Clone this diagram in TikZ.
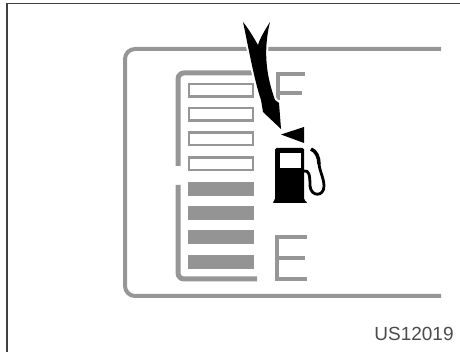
\documentclass[tikz,border=0pt]{standalone}
\usepackage{fontspec}
\setsansfont{Liberation Sans}
\definecolor{lineGray}{RGB}{150,150,150}
\definecolor{barGray}{RGB}{148,148,148}
\definecolor{codeGray}{RGB}{75,75,75}
\tikzset{
  PANEL/.style={draw=lineGray, line width=4pt, rounded corners=10pt},
  LETTER/.style={draw=lineGray, line width=4pt},
  B/.style={inner sep=0pt, minimum width=66pt, minimum height=14pt},
  EMPTY/.style={B, draw=lineGray, line width=2.5pt, fill=white, minimum width=64pt, minimum height=12.5pt},
  FULL/.style={B, fill=barGray},
}
\newcommand{\pointershape}{(243,22) .. controls (247,40) and (254,80) .. (261,100) -- (263,112)
  -- (281,129) -- (279,103) -- (275,100)
  .. controls (268,80) and (262,55) .. (270,22)
  .. controls (265,30) and (260,38) .. (258,45)
  .. controls (254,38) and (248,28) .. (243,22) -- cycle}
\begin{document}
\begin{tikzpicture}[x=1pt, y=1pt, yscale=-1]

\useasboundingbox (0,0) rectangle (460,352);

%% Frame
\draw[black!75, line width=1.2pt] (7,352) -- (7,3.5) -- (460,3.5);

%% Panel and bracket
\draw[PANEL] (441,49) -- (125,49) -- (125,296) -- (441,296);
\draw[PANEL, line width=5pt, rounded corners=6pt] (252,73) -- (178,73) -- (178,166);
\draw[PANEL, line width=5pt, rounded corners=6pt] (178,185) -- (178,279) -- (257,279);

%% Gauge bars
\node[EMPTY] (BAR1) at (221,90.5) {};
\node[EMPTY] (BAR2) at (221,114.5) {};
\node[EMPTY] (BAR3) at (221,139) {};
\node[EMPTY] (BAR4) at (221,164) {};
\node[FULL] (BAR5) at (220.5,189) {};
\node[FULL] (BAR6) at (220.5,213.5) {};
\node[FULL] (BAR7) at (220.5,237.5) {};
\node[FULL] (BAR8) at (220.5,262.5) {};

%% F and E
\draw[LETTER] (305,74) -- (278,74) -- (278,100);
\draw[LETTER] (278,93) -- (302,93);
\draw[LETTER] (307,237) -- (276.5,237) -- (276.5,279) -- (307,279);
\draw[LETTER] (276.5,258) -- (305,258);

%% Pointer
\filldraw[black, draw=white, line width=4pt, line join=round] \pointershape;
\fill[black] \pointershape;
\fill[black] (281,134.5) -- (304,127) -- (304,143) -- cycle;

%% Pump
\fill[black, rounded corners=1.5pt] (275,148) -- (304,148) -- (304,200) -- (308,203) -- (272,203) -- (275,200) -- cycle;
\fill[white] (280,153) rectangle (301,168);
\draw[black, line width=2.8pt] (304,171) .. controls (309,170) and (310,175) .. (310,186)
  .. controls (311,197) and (324,197) .. (324,186)
  .. controls (324,178) and (319,170) .. (319,163);
\draw[black, line width=3.5pt] (311,149) .. controls (316,151) and (319,157) .. (319,164);

\node[font=\sffamily\fontsize{19}{19}\selectfont, text=codeGray, inner sep=0pt] (CODE) at (414,334) {US12019};

\end{tikzpicture}
\end{document}
